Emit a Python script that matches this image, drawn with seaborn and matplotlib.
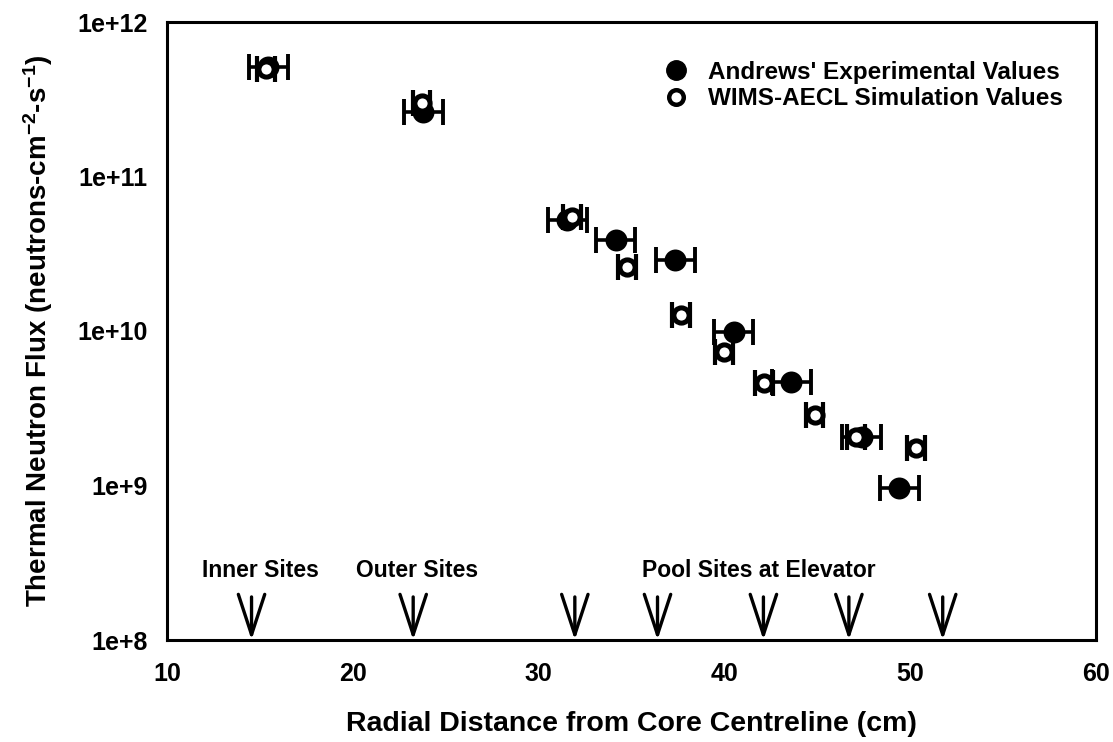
import numpy as np
import pandas as pd
import matplotlib
matplotlib.use("Agg")
import matplotlib.pyplot as plt
from matplotlib.lines import Line2D
from matplotlib.ticker import FixedLocator, FuncFormatter, NullLocator
import seaborn as sns

# Measured thermal neutron flux (Andrews)
exp_r = [15.45, 23.8, 31.55, 34.15, 37.35, 40.5, 43.6, 47.4, 49.4]
exp_flux = [5.1e11, 2.6e11, 5.2e10, 3.9e10, 2.9e10, 9.9e9, 4.7e9, 2.06e9, 9.6e8]
exp_rerr = [1.05] * len(exp_r)

# WIMS-AECL simulated thermal neutron flux
sim_r = [15.35, 23.7, 31.8, 34.75, 37.65, 40.0, 42.15, 44.85, 47.1, 50.3]
sim_flux = [5.0e11, 3.0e11, 5.5e10, 2.6e10, 1.27e10, 7.3e9, 4.6e9, 2.86e9, 2.06e9, 1.75e9]
sim_rerr = [0.48] * len(sim_r)

# Irradiation site radial positions
site_positions = [14.55, 23.25, 31.95, 36.4, 42.1, 46.7, 51.75]
site_groups = ["Inner Sites", "Outer Sites", "Pool Sites at Elevator"]
site_group_x = [15.05, 23.45, 41.85]

x_ticks = [10, 20, 30, 40, 50, 60]
y_ticks = [1e8, 1e9, 1e10, 1e11, 1e12]

series_labels = ["Andrews' Experimental Values", "WIMS-AECL Simulation Values"]

sns.set_theme(style="white")
plt.rcParams["font.family"] = ["Liberation Sans", "DejaVu Sans"]
plt.rcParams["font.weight"] = "bold"
plt.rcParams["text.color"] = "black"
plt.rcParams["axes.labelcolor"] = "black"
plt.rcParams["xtick.color"] = "black"
plt.rcParams["ytick.color"] = "black"
plt.rcParams["mathtext.fontset"] = "custom"
plt.rcParams["mathtext.rm"] = "Liberation Sans:bold"
plt.rcParams["mathtext.default"] = "rm"

exp_df = pd.DataFrame({"r": exp_r, "flux": exp_flux})
sim_df = pd.DataFrame({"r": sim_r, "flux": sim_flux})

fig = plt.figure(figsize=(11.13, 7.42), dpi=100)
ax = fig.add_axes([167 / 1113, 102 / 742, 929 / 1113, 618 / 742])

# experimental points: filled circles with horizontal error bars
ax.errorbar(exp_r, exp_flux, xerr=exp_rerr, fmt="none", ecolor="black",
            elinewidth=2.6, capsize=9.5, capthick=2.8, zorder=2)
sns.scatterplot(data=exp_df, x="r", y="flux", ax=ax, color="black",
                marker="o", s=250, edgecolor="black", linewidth=0, zorder=3)

# simulation points: open circles with short error bars
ax.errorbar(sim_r, sim_flux, xerr=sim_rerr, fmt="none", ecolor="black",
            elinewidth=2.4, capsize=9.5, capthick=3.0, zorder=4)
sns.scatterplot(data=sim_df, x="r", y="flux", ax=ax, color="white",
                marker="o", s=120, edgecolor="black", linewidth=3.6, zorder=5)

ax.set_yscale("log")
ax.set_xlim(10, 60)
ax.set_ylim(1e8, 1e12)
ax.xaxis.set_major_locator(FixedLocator(x_ticks))
ax.yaxis.set_major_locator(FixedLocator(y_ticks))
ax.yaxis.set_minor_locator(NullLocator())
ax.yaxis.set_major_formatter(FuncFormatter(lambda v, p: f"1e+{int(round(np.log10(v)))}"))
ax.xaxis.set_major_formatter(FuncFormatter(lambda v, p: f"{int(v)}"))

for side in ["left", "right", "top", "bottom"]:
    ax.spines[side].set_visible(True)
    ax.spines[side].set_color("black")
    ax.spines[side].set_linewidth(2.2)

ax.tick_params(axis="both", which="major", direction="out", length=6, width=2,
               color="black", labelsize=18, labelcolor="black")
ax.tick_params(axis="x", pad=10)
ax.tick_params(axis="y", pad=8)
for lab in ax.get_xticklabels() + ax.get_yticklabels():
    lab.set_fontweight("bold")

ax.set_xlabel("Radial Distance from Core Centreline (cm)", fontsize=20.5,
              fontweight="bold", labelpad=18, color="black")
ax.set_ylabel(r"Thermal Neutron Flux (neutrons-cm$^{-2}$-s$^{-1}$)", fontsize=20,
              fontweight="bold", labelpad=16, color="black")

# site arrows pointing down at the axis
for xs in site_positions:
    ax.annotate("", xy=(xs, 1e8), xycoords="data",
                xytext=(0, 31), textcoords="offset points",
                arrowprops=dict(arrowstyle="->,head_length=2.9,head_width=0.95",
                                color="black", lw=2.4, mutation_scale=10,
                                shrinkA=0, shrinkB=0))

trans = ax.get_xaxis_transform()
for name, xg in zip(site_groups, site_group_x):
    ax.text(xg, 0.113, name, transform=trans, ha="center", va="center",
            fontsize=16.5, fontweight="bold", color="black")

handles = [
    Line2D([], [], linestyle="none", marker="o", markersize=14,
           markerfacecolor="black", markeredgecolor="black"),
    Line2D([], [], linestyle="none", marker="o", markersize=10.5,
           markerfacecolor="white", markeredgecolor="black", markeredgewidth=3.2),
]
leg = ax.legend(handles, series_labels, loc="upper left",
                bbox_to_anchor=(0.522, 0.957), frameon=False,
                prop={"size": 17.5, "weight": "bold"}, handletextpad=0.8,
                labelspacing=0.15, handlelength=1.0, borderpad=0)
for t in leg.get_texts():
    t.set_color("black")

fig.savefig("out.png", dpi=100, facecolor="white")
